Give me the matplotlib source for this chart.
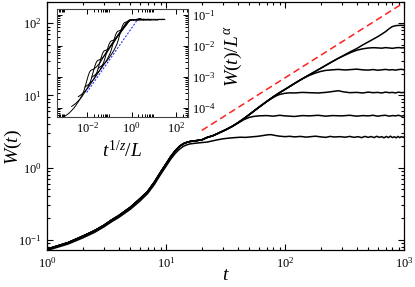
import numpy as np
import matplotlib
matplotlib.use("Agg")
import matplotlib.pyplot as plt
from matplotlib.ticker import LogLocator, FixedLocator, NullFormatter

plt.rcParams['font.family'] = ['Liberation Serif', 'DejaVu Serif']
plt.rcParams['mathtext.fontset'] = 'custom'
plt.rcParams['mathtext.rm'] = 'Liberation Serif'
plt.rcParams['mathtext.it'] = 'Liberation Serif:italic'
plt.rcParams['mathtext.bf'] = 'Liberation Serif:bold'

# ---------------- data ----------------
early_t = [1, 1.5, 2, 2.5, 3, 3.5, 4, 5, 6, 7, 8, 9, 10, 11, 12, 13, 14, 15, 16, 18, 20]
early_hi = [0.074, 0.091, 0.112, 0.133, 0.158, 0.188, 0.215, 0.28, 0.365, 0.465, 0.63, 0.86,
            1.12, 1.43, 1.72, 1.97, 2.14, 2.24, 2.3, 2.36, 2.42]
early_lo = [0.071, 0.087, 0.106, 0.126, 0.15, 0.178, 0.203, 0.263, 0.34, 0.435, 0.585, 0.8,
            1.04, 1.32, 1.58, 1.8, 1.97, 2.07, 2.13, 2.18, 2.22]

line_t = [22, 25, 28, 32, 36, 40, 45, 50, 60, 70, 80, 90, 100, 120, 140, 160, 200, 240, 280, 320,
          360, 400, 450, 500, 550, 600, 650, 700, 750, 800, 850, 900, 950, 1000]
line_W = [2.6, 2.78, 3.03, 3.36, 3.72, 4.15, 4.75, 5.4, 6.8, 8.2, 9.6, 10.9, 12.1, 14.6, 17.0, 19.3,
          23.8, 28.3, 32.6, 36.8, 40.8, 44.5, 50.0, 55.0, 60.0, 65.0, 70.5, 76.5, 84.0, 90.0, 92.5,
          93.2, 93.5, 93.0]

L1_t = [22, 24, 27, 30, 34, 38, 42, 47, 52, 58, 64, 70, 76, 83, 90, 100, 110, 120, 135, 150,
        165, 180, 200, 220, 240, 260, 290, 320, 350, 380, 410, 440, 470, 500, 530, 560, 590, 620,
        650, 680, 710, 740, 770, 800, 830, 860, 890, 920, 950, 980, 1000]
L1_W = [2.25, 2.32, 2.42, 2.5, 2.56, 2.6, 2.63, 2.62, 2.66, 2.7, 2.76, 2.83, 2.86, 2.78, 2.72,
        2.68, 2.71, 2.66, 2.7, 2.64, 2.68, 2.72, 2.66, 2.62, 2.7, 2.65, 2.68, 2.63, 2.7, 2.62,
        2.68, 2.6, 2.7, 2.62, 2.69, 2.6, 2.71, 2.62, 2.68, 2.58, 2.7, 2.6, 2.72, 2.6, 2.67, 2.58,
        2.7, 2.6, 2.68, 2.62, 2.65]

L2_t = [40, 45, 50, 55, 60, 70, 80, 90, 100, 120, 140, 160, 190, 220, 250, 300, 350, 400, 450,
        500, 550, 600, 650, 700, 750, 800, 850, 900, 950, 1000]
L2_W = [4.1, 4.6, 4.95, 5.12, 5.2, 5.25, 5.15, 5.3, 5.2, 5.1, 5.25, 5.2, 5.3, 5.15, 5.25, 5.2,
        5.3, 5.15, 5.25, 5.2, 5.3, 5.15, 5.25, 5.3, 5.15, 5.25, 5.2, 5.3, 5.15, 5.25]

L3_t = [75, 80, 85, 90, 100, 110, 120, 140, 160, 190, 220, 250, 280, 310, 350, 400, 450, 500,
        550, 600, 650, 700, 750, 800, 850, 900, 950, 1000]
L3_W = [8.8, 9.4, 9.9, 10.3, 10.7, 10.85, 10.8, 11.0, 10.9, 10.8, 11.0, 11.3, 11.6, 11.2, 10.9,
        11.0, 10.8, 11.1, 10.9, 11.0, 10.8, 11.1, 10.9, 11.0, 10.8, 11.1, 10.9, 11.0]

L4_t = [160, 180, 200, 220, 250, 280, 320, 360, 400, 450, 500, 550, 600, 650, 700, 750, 800,
        850, 900, 950, 1000]
L4_W = [18.9, 20.4, 21.5, 22.2, 22.6, 22.9, 22.5, 22.8, 23.1, 22.6, 22.4, 22.8, 22.3, 22.6,
        22.9, 22.5, 22.7, 22.4, 22.8, 23.0, 22.6]

L5_t = [320, 360, 400, 450, 500, 550, 600, 650, 700, 750, 800, 850, 900, 950, 1000]
L5_W = [36.2, 39.5, 42.2, 44.2, 45.3, 45.8, 45.5, 45.1, 45.9, 45.4, 44.9, 45.6, 46.0, 45.5, 45.7]

# index into line_t up to which each curve follows the common branch
L_sizes = [32, 64, 128, 256, 512, 1024]
z_exp = 1.0
alpha_exp = 1.04

red_t = [20, 960]
red_W = [3.27, 185]

blue_x = [0.0093, 1.66]
blue_y = [3.16e-4, 0.0638]

# ---------------- build curves ----------------
def upto(tmax):
    n = sum(1 for v in line_t if v <= tmax)
    return list(line_t[:n]), list(line_W[:n])

curves = []
curves.append((early_t + L1_t, early_lo + L1_W))
a, b = upto(36); curves.append((early_t + a + L2_t, early_hi + b + L2_W))
a, b = upto(70); curves.append((early_t + a + L3_t, early_hi + b + L3_W))
a, b = upto(140); curves.append((early_t + a + L4_t, early_hi + b + L4_W))
a, b = upto(280); curves.append((early_t + a + L5_t, early_hi + b + L5_W))
curves.append((early_t + line_t, early_hi + line_W))

# ---------------- figure ----------------
W_px, H_px = 415, 287
fig = plt.figure(figsize=(W_px / 100, H_px / 100), dpi=100)

def fx(px):
    return px / W_px

def fy(py):
    return 1 - py / H_px

ax = fig.add_axes([fx(47), fy(250), fx(404) - fx(47), fy(1.5) - fy(250)])
for t, w in curves:
    ax.plot(t, w, color='black', lw=1.1, solid_joinstyle='round')
ax.plot(red_t, red_W, color='#ff2020', lw=1.1, linestyle=(0, (4.5, 2.6)))
ax.set_xscale('log')
ax.set_yscale('log')
ax.set_xlim(1, 1000)
ax.set_ylim(0.072, 200)
ax.tick_params(which='both', direction='in', top=True, right=True, labelsize=9, width=0.8)
ax.tick_params(which='major', length=4.5, pad=4)
ax.tick_params(which='minor', length=2.3)
ax.yaxis.set_minor_locator(LogLocator(base=10, subs=np.arange(2, 10)))
ax.yaxis.set_minor_formatter(NullFormatter())
ax.xaxis.set_minor_formatter(NullFormatter())
for s in ax.spines.values():
    s.set_linewidth(0.9)

fig.text(fx(13), fy(147), r'$W(t)$', rotation=90, ha='center', va='center', fontsize=14)
fig.text(fx(226), fy(276), r'$t$', ha='center', va='center', fontsize=14)

# ---------------- inset ----------------
ins = fig.add_axes([fx(57), fy(117), fx(188) - fx(57), fy(9) - fy(117)])
for (t, w), L in zip(curves, L_sizes):
    xs = [ti ** (1.0 / z_exp) / L for ti in t]
    ys = [wi / L ** alpha_exp for wi in w]
    ins.plot(xs, ys, color='black', lw=0.7)
ins.plot(blue_x, blue_y, color='#2030ff', lw=0.8, linestyle=(0, (1.8, 1.4)))
ins.set_xscale('log')
ins.set_yscale('log')
ins.set_xlim(10 ** -3.37, 10 ** 2.54)
ins.set_ylim(10 ** -4.29, 10 ** -0.806)
ins.xaxis.set_major_locator(FixedLocator([1e-2, 1e0, 1e2]))
minor_x = [k * 10.0 ** e for e in (-4, -2, 0, 2) for k in range(2, 10)]
ins.xaxis.set_minor_locator(FixedLocator(minor_x))
ins.xaxis.set_minor_formatter(NullFormatter())
ins.yaxis.set_major_locator(FixedLocator([1e-4, 1e-3, 1e-2, 1e-1]))
ins.yaxis.set_minor_locator(LogLocator(base=10, subs=np.arange(2, 10)))
ins.yaxis.set_minor_formatter(NullFormatter())
ins.tick_params(which='both', direction='in', top=True, right=True, left=True,
                labelleft=False, labelright=True, labelsize=9, width=0.7)
ins.tick_params(which='major', length=3.5, pad=3)
ins.tick_params(which='minor', length=2)
for s in ins.spines.values():
    s.set_linewidth(0.8)
    s.set_color('#444444')

fig.text(fx(122), fy(151), r'$t^{1/z}/L$', ha='center', va='center', fontsize=14)
fig.text(fx(233), fy(56), r'$W(t)/L^{\alpha}$', rotation=90, ha='center', va='center', fontsize=14)

fig.savefig('out.png', dpi=100)
